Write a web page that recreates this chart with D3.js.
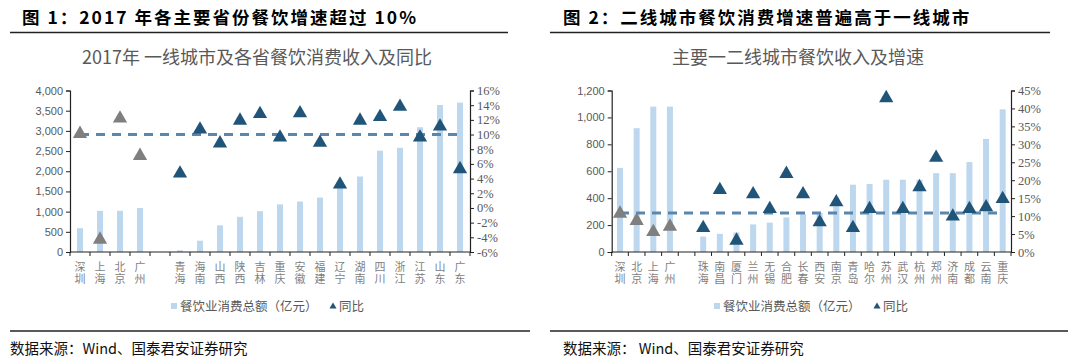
<!DOCTYPE html>
<html><head><meta charset="utf-8">
<script src="https://cdn.jsdelivr.net/npm/d3@7"></script>
<style>
body{margin:0;background:#fff;}
svg{display:block;}
</style></head>
<body>
<svg id="c" width="1080" height="363"></svg>
<script>
// ---------- Chart 1 data ----------
const cats1 = ["深圳","上海","北京","广州","","青海","海南","山西","陕西","吉林","重庆","安徽","福建","辽宁","湖南","四川","浙江","江苏","山东","广东"];
const sales1 = [590,1020,1020,1090,null,40,280,660,870,1010,1180,1250,1350,1650,1870,2510,2580,3090,3640,3700];
const yoy1 = [10.1,-4.3,12.2,7.1,null,4.7,10.7,8.8,11.9,12.8,9.6,12.9,8.9,3.2,11.9,12.4,13.8,9.6,11.1,5.3];
const ref1 = 10;
const leftTicks1 = [0,500,1000,1500,2000,2500,3000,3500,4000];
const rightTicks1 = [-6,-4,-2,0,2,4,6,8,10,12,14,16];

// ---------- Chart 2 data ----------
const cats2 = ["深圳","北京","上海","广州","","珠海","南昌","厦门","兰州","无锡","合肥","长春","西安","南京","青岛","哈尔","苏州","武汉","杭州","郑州","济南","成都","云南","重庆"];
const sales2 = [625,920,1080,1080,null,115,135,145,205,218,257,280,290,340,500,505,537,537,537,586,586,668,840,1060];
const yoy2 = [10.7,8.7,5.6,7.1,null,6.7,17.3,3.2,16.1,12.0,21.8,16.1,8.3,13.9,6.7,12.0,42.9,12.0,18.1,26.3,9.9,12.0,12.5,14.8];
const ref2 = 10.9;
const leftTicks2 = [0,200,400,600,800,1000,1200];
const rightTicks2 = [0,5,10,15,20,25,30,35,40,45];

const svg = d3.select("#c");
const BAR = "#bdd7ee", DARK = "#215479", GRAY = "#7f7f7f", DASH = "#5b87ad";
const CJK = "'Noto Sans CJK SC', sans-serif";

function panel(o){
  const g = svg.append("g");
  // title
  g.append("text").attr("x", o.titleX).attr("y", 24)
    .attr("font-family", CJK).attr("font-weight", 700).attr("font-size", 17.5)
    .attr("letter-spacing", 2).attr("fill", "#000").text(o.title);
  g.append("line").attr("x1", o.lineX1).attr("x2", o.lineX2).attr("y1", 32.5).attr("y2", 32.5)
    .attr("stroke", "#222").attr("stroke-width", 1.5);
  g.append("text").attr("x", o.subX).attr("y", 64).attr("text-anchor","middle")
    .attr("font-family", CJK).attr("font-size", 18).attr("fill", "#595959").text(o.sub);

  const idx = o.cats.map((d,i)=>i);
  const x = d3.scaleBand().domain(idx).range([o.x0, o.x1]);
  const yL = d3.scaleLinear().domain(o.lDom).range([252, 90.5]);
  const yR = d3.scaleLinear().domain(o.rDom).range([252, 90.5]);

  // bars
  const bw = 6;
  g.append("g").selectAll("rect").data(idx.filter(i=>o.sales[i]!=null)).join("rect")
    .attr("x", i=>x(i)+x.bandwidth()/2-bw/2).attr("width", bw)
    .attr("y", i=>yL(o.sales[i])).attr("height", i=>yL(0)-yL(o.sales[i]))
    .attr("fill", BAR);

  // dashed reference line
  const line = d3.line().x(i=>x(i)+x.bandwidth()/2).y(()=>yR(o.ref));
  g.append("path").attr("d", line([idx[0], idx[idx.length-1]]))
    .attr("stroke", DASH).attr("stroke-width", 3).attr("stroke-dasharray","9,7").attr("fill","none");

  // triangles
  const tri = d3.symbol().type(d3.symbolTriangle).size(88);
  g.append("g").selectAll("path").data(idx.filter(i=>o.yoy[i]!=null)).join("path")
    .attr("d", tri)
    .attr("transform", i=>`translate(${x(i)+x.bandwidth()/2},${yR(o.yoy[i])})`)
    .attr("fill", i=>i<4?GRAY:DARK);

  // axes
  const axL = d3.axisLeft(yL).tickValues(o.lTicks).tickSize(4).tickFormat(d3.format(","));
  const gl = g.append("g").attr("transform",`translate(${o.x0},0)`).call(axL);
  gl.selectAll("text").attr("font-family","'Liberation Sans', Arial, sans-serif").attr("font-size",11).attr("fill","#595959");
  const axR = d3.axisRight(yR).tickValues(o.rTicks).tickSize(4).tickFormat(d=>d+"%");
  const gr = g.append("g").attr("transform",`translate(${o.x1},0)`).call(axR);
  gr.selectAll("text").attr("font-family","'Liberation Serif', 'Times New Roman', serif").attr("font-size",12.5).attr("fill","#595959");
  [gl,gr].forEach(a=>{a.select(".domain").attr("stroke","#222").attr("stroke-width",1.2);a.selectAll("line").attr("stroke","#222");});

  // x axis line with ticks at band boundaries
  const gx = g.append("g");
  gx.append("line").attr("x1",o.x0).attr("x2",o.x1).attr("y1",252).attr("y2",252).attr("stroke","#222").attr("stroke-width",1.2);
  gx.selectAll("line.t").data(idx.concat([idx.length])).join("line").attr("class","t")
    .attr("x1", i=>o.x0+i*x.step()).attr("x2", i=>o.x0+i*x.step())
    .attr("y1",252).attr("y2",256).attr("stroke","#222");
  // vertical labels
  gx.selectAll("text").data(idx.filter(i=>o.cats[i])).join("text")
    .attr("x", i=>x(i)+x.bandwidth()/2).attr("y", 261)
    .style("writing-mode","vertical-rl").style("text-orientation","upright")
    .attr("letter-spacing", 1)
    .attr("font-family", CJK).attr("font-size", 11).attr("fill","#7f7f7f")
    .text(i=>o.cats[i]);

  // legend
  g.append("rect").attr("x",o.legX).attr("y",303).attr("width",6).attr("height",6).attr("fill",BAR);
  g.append("text").attr("x",o.legX+9).attr("y",311).attr("font-family",CJK).attr("font-size",12.5).attr("fill","#595959").text("餐饮业消费总额（亿元）");
  g.append("path").attr("d", d3.symbol().type(d3.symbolTriangle).size(22)())
    .attr("transform",`translate(${o.legX2},306.5)`).attr("fill",DARK);
  g.append("text").attr("x",o.legX2+6).attr("y",311).attr("font-family",CJK).attr("font-size",12.5).attr("fill","#595959").text("同比");

  // bottom rule and source
  g.append("line").attr("x1", o.lineX1).attr("x2", o.bLineX2).attr("y1", 331).attr("y2", 331)
    .attr("stroke","#222").attr("stroke-width",1.5);
  g.append("text").attr("x", o.srcX).attr("y", 354).attr("font-family",CJK).attr("font-size",14.5).attr("fill","#111").text(o.src);
}

panel({
  title:"图 1：2017 年各主要省份餐饮增速超过 10%", titleX:22, lineX1:10, lineX2:508, bLineX2:530,
  sub:"2017年 一线城市及各省餐饮消费收入及同比", subX:257,
  cats:cats1, sales:sales1, yoy:yoy1, ref:ref1,
  x0:70, x1:470, lDom:[0,4000], rDom:[-6,16], lTicks:leftTicks1, rTicks:rightTicks1,
  legX:171, legX2:333, srcX:10, src:"数据来源：Wind、国泰君安证券研究"
});
panel({
  title:"图 2：二线城市餐饮消费增速普遍高于一线城市", titleX:563, lineX1:550, lineX2:1050, bLineX2:1068,
  sub:"主要一二线城市餐饮收入及增速", subX:798,
  cats:cats2, sales:sales2, yoy:yoy2, ref:ref2,
  x0:611.7, x1:1011, lDom:[0,1200], rDom:[0,45], lTicks:leftTicks2, rTicks:rightTicks2,
  legX:714, legX2:877, srcX:563, src:"数据来源：  Wind、国泰君安证券研究"
});
</script>
</body></html>
